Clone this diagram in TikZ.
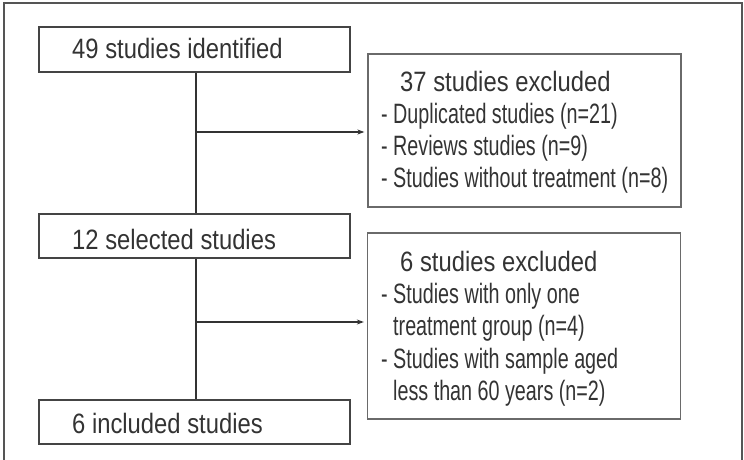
\documentclass[tikz,border=0pt]{standalone}
\usepackage{fontspec}
\setmainfont{Liberation Sans}
\newfontfamily\titlefont[FakeStretch=0.85]{Liberation Sans}
\newfontfamily\listfont[FakeStretch=0.705]{Liberation Sans}
\usetikzlibrary{arrows.meta}
\definecolor{inkc}{HTML}{333333}
\definecolor{framec}{HTML}{555555}
\definecolor{boxc}{HTML}{444444}
\definecolor{exboxc}{HTML}{6A6A6A}
\begin{document}
\begin{tikzpicture}[x=1pt,y=-1pt,
  stagebox/.style={draw=boxc,line width=1.3pt,rectangle,minimum width=311pt,inner sep=0pt},
  exbox/.style={draw=exboxc,line width=1.3pt,rectangle,minimum width=313pt,inner sep=0pt},
  ttl/.style={anchor=base west,inner sep=0pt,text=inkc,font=\titlefont\fontsize{28}{32}\selectfont},
  lst/.style={anchor=base west,inner sep=0pt,text=inkc,font=\listfont\fontsize{28}{32}\selectfont},
  link/.style={draw=inkc,line width=1.2pt},
  arr/.style={link,-{Stealth[length=7pt,width=5pt]},shorten >=3pt}]
\useasboundingbox (0,0) rectangle (744,460);
\draw[framec,line width=1.3pt] (4,460) -- (4,3) -- (742,3) -- (742,460);
% stage boxes
\node[stagebox,minimum height=45pt] (b1) at (194.5,49.5) {};
\node[stagebox,minimum height=44pt] (b2) at (194.5,236) {};
\node[stagebox,minimum height=44pt] (b3) at (194.5,422) {};
% exclusion boxes
\node[exbox,minimum height=153pt] (e1) at (524.5,130.5) {};
\node[exbox,minimum height=186pt] (e2) at (524,326) {};
% texts
\node[ttl] (t1) at (72,59) {49 studies identified};
\node[ttl] (t2) at (72,249) {12 selected studies};
\node[ttl] (t3) at (72,433) {6 included studies};
\node[ttl] (x1) at (400,91) {37 studies excluded};
\node[lst] (x1a) at (381,123) {- Duplicated studies (n=21)};
\node[lst] (x1b) at (381,155) {- Reviews studies (n=9)};
\node[lst] (x1c) at (381,187) {- Studies without treatment (n=8)};
\node[ttl] (x2) at (400,271) {6 studies excluded};
\node[lst] (x2a) at (381,303) {- Studies with only one};
\node[lst] (x2b) at (393,335) {treatment group (n=4)};
\node[lst] (x2c) at (381,368) {- Studies with sample aged};
\node[lst] (x2d) at (393,400) {less than 60 years (n=2)};
% connectors
\coordinate (j1) at (196,132);
\coordinate (j2) at (196,322);
\draw[link] ([xshift=1.5pt]b1.south) -- ([xshift=1.5pt]b2.north);
\draw[link] ([xshift=1.5pt]b2.south) -- ([xshift=1.5pt]b3.north);
\draw[arr] (j1) -- (e1.west |- j1);
\draw[arr] (j2) -- (e2.west |- j2);
\end{tikzpicture}
\end{document}
